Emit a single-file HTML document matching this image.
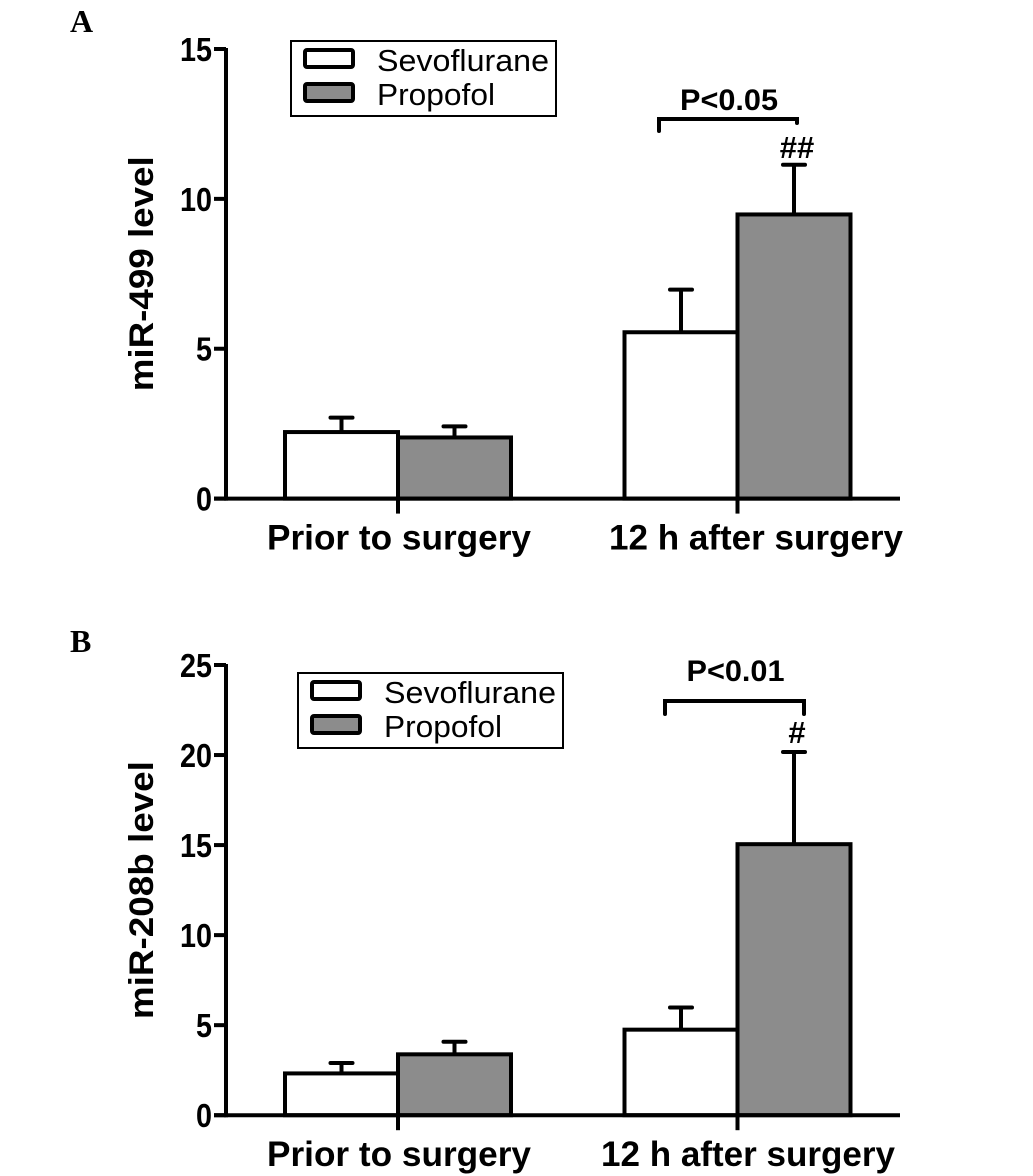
<!DOCTYPE html>
<html><head><meta charset="utf-8"><style>
body{margin:0;background:#fff}
svg{display:block;font-family:"Liberation Sans",Arial,sans-serif}
</style></head><body>
<svg id="chart" width="1033" height="1176" viewBox="0 0 1033 1176">
</svg>
<script>
const categories=["Prior to surgery","12 h after surgery"];
const seriesNames=["Sevoflurane","Propofol"];
const aSevo=[2.22,5.55];
const aSevoErr=[0.48,1.42];
const aProp=[2.04,9.48];
const aPropErr=[0.37,1.66];
const aTicks=[0,5,10,15];
const bSevo=[2.32,4.75];
const bSevoErr=[0.58,1.23];
const bProp=[3.38,15.05];
const bPropErr=[0.70,5.12];
const bTicks=[0,5,10,15,20,25];

const svg=document.getElementById('chart');
const NS='http://www.w3.org/2000/svg';
function mk(tag,attrs,parent,text){const e=document.createElementNS(NS,tag);for(const k in attrs)e.setAttribute(k,attrs[k]);if(text!==undefined)e.textContent=text;(parent||svg).appendChild(e);return e;}

function panel(cfg){
  const g=mk('g',{});
  
  
  const y=v=>cfg.y0-(v-0)*(cfg.y0-cfg.yTop)/cfg.max;
  const ax=226, axEnd=900;
  const L=mk('text',{x:70,y:cfg.letterY,'font-family':'"Liberation Serif",serif','font-weight':'bold','font-size':32},g,cfg.letter);
  
  const ya=mk('line',{x1:ax,y1:y(cfg.max)-1,x2:ax,y2:cfg.y0+2,stroke:'#000','stroke-width':4},g);
  
  cfg.ticks.forEach(t=>{
    const tl=mk('line',{x1:ax-12,y1:y(t),x2:ax,y2:y(t),stroke:'#000','stroke-width':4},g);
    
    const s=String(t);
    const tx=mk('text',{x:ax-14,y:y(t)+12,'text-anchor':'end','font-weight':'bold','font-size':33,textLength:16*s.length,lengthAdjust:'spacingAndGlyphs'},g,s);
    
  });
  const yl=mk('text',{transform:`translate(153,${(cfg.y0+y(cfg.max))/2}) rotate(-90)`,'text-anchor':'middle','font-weight':'bold','font-size':34,textLength:cfg.ylabelLen,lengthAdjust:'spacingAndGlyphs'},g,cfg.ylabel);
  
  const groupLeft=[285,624.5], bw=113;
  categories.forEach((c,i)=>{
    const x0=groupLeft[i];
    [[cfg.sevo,cfg.sevoErr,'#fff','sevoflurane'],[cfg.prop,cfg.propErr,'#8c8c8c','propofol']].forEach((s,j)=>{
      const bx=x0+j*bw, v=s[0][i], e=s[1][i];
      const cx=bx+bw/2;
      const el=mk('line',{x1:cx,y1:y(v),x2:cx,y2:y(v+e),stroke:'#000','stroke-width':4},g);
      
      const cap=mk('line',{x1:cx-11,y1:y(v+e),x2:cx+11,y2:y(v+e),stroke:'#000','stroke-width':4,'stroke-linecap':'round'},g);
      
      const r=mk('rect',{x:bx,y:y(v),width:bw,height:cfg.y0-y(v),fill:s[2],stroke:'#000','stroke-width':4},g);
      
    });
    const ct=mk('line',{x1:x0+bw,y1:cfg.y0,x2:x0+bw,y2:cfg.y0+15,stroke:'#000','stroke-width':4},g);
    
    const cl=mk('text',{x:i===0?399:cfg.cat2x,y:cfg.y0+51,'text-anchor':'middle','font-weight':'bold','font-size':35,textLength:i===0?264:294,lengthAdjust:'spacingAndGlyphs'},g,c);
    
  });
  const xa=mk('line',{x1:ax-12,y1:cfg.y0,x2:axEnd,y2:cfg.y0,stroke:'#000','stroke-width':4},g);
  
  const lg=mk('g',{},g);
  
  const lb=cfg.legend;
  mk('rect',{x:lb.x,y:lb.y,width:lb.w,height:lb.h,fill:'#fff',stroke:'#000','stroke-width':2},lg);
  seriesNames.forEach((n,k)=>{
    const sy=lb.y+9+k*34;
    const sw=mk('rect',{x:lb.x+14,y:sy,width:48,height:17,fill:k?'#8c8c8c':'#fff',stroke:'#000','stroke-width':4,rx:2},lg);
    
    const lt=mk('text',{x:lb.x+86,y:sy+21,'font-size':31,textLength:k?118:172,lengthAdjust:'spacingAndGlyphs'},lg,n);
    
  });
  const br=cfg.bracket;
  const bp=mk('path',{d:`M${br.x1},${br.yEnd} L${br.x1},${br.y} L${br.x2},${br.y} L${br.x2},${br.yEnd2}`,fill:'none',stroke:'#000','stroke-width':4,'stroke-linecap':'round'},g);
  
  const pt=mk('text',{x:(br.x1+br.x2)/2+1,y:br.textY,'text-anchor':'middle','font-weight':'bold','font-size':30,textLength:98,lengthAdjust:'spacingAndGlyphs'},g,br.text);
  
  const hx=mk('text',{x:797,y:br.hashY,'text-anchor':'middle','font-weight':'bold','font-size':31},g,br.hash);
  
}
panel({name:'panel-a',letter:'A',letterY:32,y0:498.6,yTop:49,max:15,ticks:aTicks,ylabel:'miR-499 level',ylabelLen:235,cat2x:756,
  sevo:aSevo,sevoErr:aSevoErr,prop:aProp,propErr:aPropErr,
  legend:{x:291,y:41,w:265,h:75},
  bracket:{x1:659,x2:797,y:119,yEnd:131,yEnd2:123,text:'P<0.05',textY:110,hash:'##',hashY:158}});
panel({name:'panel-b',letter:'B',letterY:652,y0:1115.2,yTop:665,max:25,ticks:bTicks,ylabel:'miR-208b level',ylabelLen:258,cat2x:748,
  sevo:bSevo,sevoErr:bSevoErr,prop:bProp,propErr:bPropErr,
  legend:{x:298,y:673,w:265,h:75},
  bracket:{x1:665,x2:804,y:701,yEnd:714,yEnd2:714,text:'P<0.01',textY:681,hash:'#',hashY:743}});
</script>
</body></html>
